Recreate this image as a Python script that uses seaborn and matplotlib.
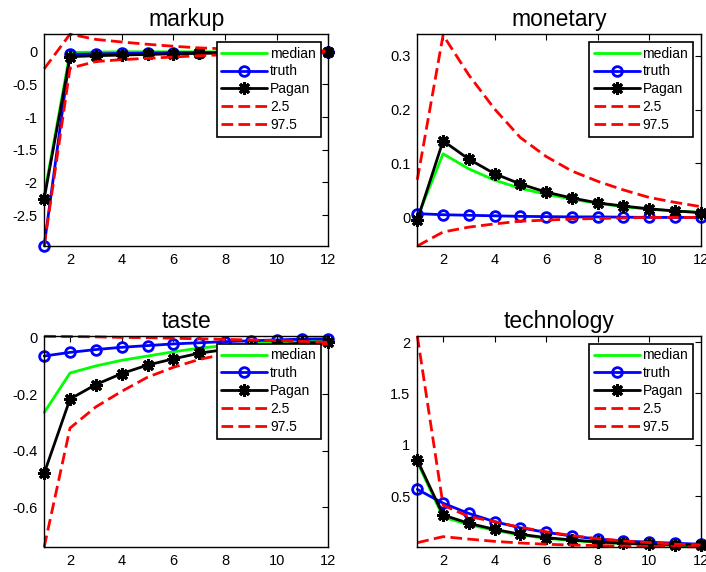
import matplotlib
matplotlib.use("Agg")
import matplotlib.pyplot as plt
import seaborn as sns
import numpy as np
import pandas as pd
from matplotlib.ticker import FuncFormatter

# ---------------- data ----------------
horizon = [1, 2, 3, 4, 5, 6, 7, 8, 9, 10, 11, 12]
titles = ["markup", "monetary", "taste", "technology"]
series_labels = ["median", "truth", "Pagan", "2.5", "97.5"]

markup_median = [-2.20, -0.01, -0.005, 0.0, 0.0, 0.0, 0.0, 0.0, 0.0, 0.0, 0.0, 0.0]
markup_truth = [-2.97, -0.04, -0.032, -0.025, -0.02, -0.015, -0.012, -0.009, -0.007, -0.005, -0.003, -0.002]
markup_pagan = [-2.25, -0.075, -0.06, -0.05, -0.04, -0.032, -0.025, -0.02, -0.015, -0.01, -0.007, -0.004]
markup_lo = [-2.97, -0.25, -0.15, -0.12, -0.10, -0.08, -0.06, -0.045, -0.035, -0.025, -0.015, -0.008]
markup_hi = [-0.26, 0.27, 0.19, 0.15, 0.115, 0.085, 0.06, 0.045, 0.035, 0.025, 0.018, 0.012]

monetary_median = [0.0, 0.118, 0.090, 0.069, 0.054, 0.043, 0.034, 0.026, 0.020, 0.015, 0.012, 0.009]
monetary_truth = [0.007, 0.005, 0.004, 0.003, 0.002, 0.0015, 0.001, 0.001, 0.0005, 0.0, 0.0, 0.0]
monetary_pagan = [-0.005, 0.142, 0.108, 0.081, 0.062, 0.047, 0.036, 0.027, 0.021, 0.016, 0.012, 0.009]
monetary_lo = [-0.053, -0.027, -0.018, -0.012, -0.007, -0.005, -0.003, -0.002, -0.001, 0.0, 0.0, 0.0]
monetary_hi = [0.07, 0.338, 0.264, 0.201, 0.148, 0.113, 0.086, 0.067, 0.051, 0.037, 0.028, 0.020]

taste_median = [-0.265, -0.125, -0.10, -0.08, -0.065, -0.05, -0.037, -0.028, -0.021, -0.016, -0.012, -0.01]
taste_truth = [-0.065, -0.052, -0.042, -0.034, -0.028, -0.022, -0.018, -0.014, -0.011, -0.008, -0.005, -0.004]
taste_pagan = [-0.48, -0.217, -0.166, -0.127, -0.097, -0.075, -0.055, -0.042, -0.032, -0.025, -0.019, -0.015]
taste_lo = [-0.741, -0.32, -0.245, -0.19, -0.14, -0.105, -0.077, -0.058, -0.045, -0.035, -0.027, -0.022]
taste_hi = [0.005, 0.004, 0.003, 0.001, 0.0, -0.002, -0.004, -0.006, -0.008, -0.01, -0.013, -0.017]

tech_median = [0.83, 0.295, 0.22, 0.165, 0.12, 0.088, 0.066, 0.048, 0.036, 0.027, 0.02, 0.015]
tech_truth = [0.565, 0.43, 0.33, 0.25, 0.19, 0.146, 0.11, 0.08, 0.062, 0.05, 0.04, 0.03]
tech_pagan = [0.85, 0.315, 0.234, 0.175, 0.127, 0.094, 0.072, 0.052, 0.04, 0.03, 0.023, 0.018]
tech_lo = [0.045, 0.104, 0.08, 0.058, 0.042, 0.03, 0.022, 0.017, 0.012, 0.009, 0.006, 0.004]
tech_hi = [2.06, 0.41, 0.30, 0.25, 0.195, 0.152, 0.114, 0.085, 0.062, 0.046, 0.03, 0.023]

xticks = [2, 4, 6, 8, 10, 12]
yticks = {
    "markup": [-2.5, -2, -1.5, -1, -0.5, 0],
    "monetary": [0, 0.1, 0.2, 0.3],
    "taste": [-0.6, -0.4, -0.2, 0],
    "technology": [0.5, 1, 1.5, 2],
}
ylims = {
    "markup": (-2.975, 0.272),
    "monetary": (-0.053, 0.340),
    "taste": (-0.741, 0.006),
    "technology": (0.003, 2.06),
}

panels = {
    "markup": [markup_median, markup_truth, markup_pagan, markup_lo, markup_hi],
    "monetary": [monetary_median, monetary_truth, monetary_pagan, monetary_lo, monetary_hi],
    "taste": [taste_median, taste_truth, taste_pagan, taste_lo, taste_hi],
    "technology": [tech_median, tech_truth, tech_pagan, tech_lo, tech_hi],
}

# ---------------- style ----------------
sns.set_theme(style="white")
plt.rcParams["font.family"] = ["Liberation Sans", "DejaVu Sans"]
plt.rcParams["axes.unicode_minus"] = False
plt.rcParams["text.color"] = "black"
plt.rcParams["axes.labelcolor"] = "black"
plt.rcParams["xtick.color"] = "black"
plt.rcParams["ytick.color"] = "black"

styles = [
    dict(color=(0, 1, 0), lw=2.0, linestyle="-"),
    dict(color=(0, 0, 1), lw=2.0, linestyle="-", marker="o", markersize=7,
         markerfacecolor="none", markeredgewidth=2.0, markeredgecolor=(0, 0, 1)),
    dict(color="black", lw=2.0, linestyle="-", marker=(8, 2, 0), markersize=9,
         markeredgewidth=2.2, markeredgecolor="black"),
    dict(color=(1, 0, 0), lw=2.0, linestyle=(0, (4.2, 1.9))),
    dict(color=(1, 0, 0), lw=2.0, linestyle=(0, (4.2, 1.9))),
]

fig = plt.figure(figsize=(7.06, 5.72), dpi=100)
positions = {
    "markup": [0.0626, 0.5699, 0.4024, 0.3706],
    "monetary": [0.5911, 0.5699, 0.4014, 0.3706],
    "taste": [0.0626, 0.0437, 0.4024, 0.3689],
    "technology": [0.5911, 0.0437, 0.4014, 0.3689],
}

fmt = FuncFormatter(lambda v, p: "%g" % v)

for name in titles:
    ax = fig.add_axes(positions[name])
    for vals, lab, st in zip(panels[name], series_labels, styles):
        df = pd.DataFrame({"h": horizon, "v": vals})
        sns.lineplot(data=df, x="h", y="v", ax=ax, label=lab, clip_on=False, **st)
    ax.set_xlim(1, 12)
    ax.set_ylim(*ylims[name])
    ax.set_xticks(xticks)
    ax.set_yticks(yticks[name])
    ax.yaxis.set_major_formatter(fmt)
    ax.set_xlabel("")
    ax.set_ylabel("")
    ax.set_title(name, fontsize=16.5, pad=6, color="black")
    ax.tick_params(direction="in", length=4, width=0.8, top=True, right=True,
                   labelsize=10.5, colors="black", pad=5)
    for sp in ax.spines.values():
        sp.set_color("black")
        sp.set_linewidth(1.0)
        sp.set_visible(True)
    leg = ax.legend(loc="upper right", bbox_to_anchor=(0.973, 0.964), borderaxespad=0,
                    fontsize=10, frameon=True, fancybox=False, framealpha=1,
                    edgecolor="black", handlelength=3.3, handletextpad=0.2,
                    labelspacing=0.28, borderpad=0.35, labelcolor="black")
    leg.get_frame().set_linewidth(1.2)

fig.savefig("out.png", dpi=100)
